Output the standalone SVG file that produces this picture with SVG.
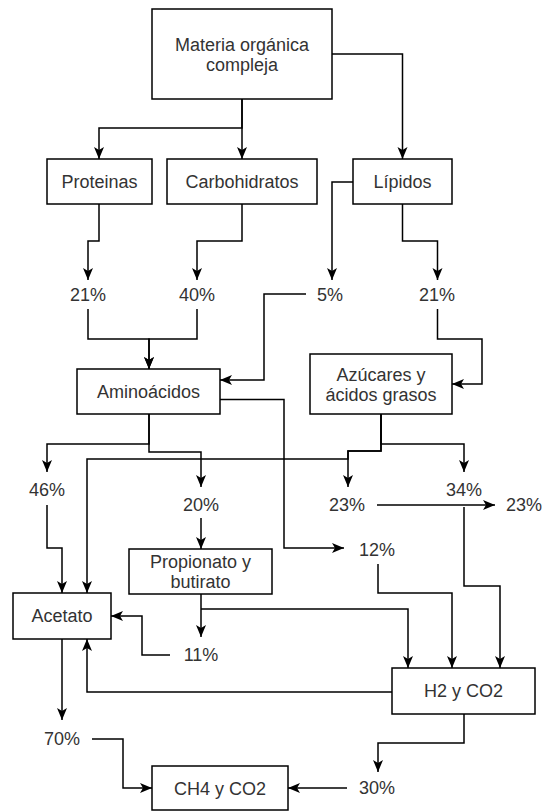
<svg xmlns="http://www.w3.org/2000/svg" width="545" height="811" viewBox="0 0 545 811">
<defs>
<style>
.box{fill:#fff;stroke:#000;stroke-width:1.5}
.t{font-family:"Liberation Sans",Arial,Helvetica,sans-serif;font-size:18px;fill:#333;text-anchor:middle}
.c{fill:none;stroke:#000;stroke-width:1.5;marker-end:url(#ah)}
</style>
<marker id="ah" markerUnits="userSpaceOnUse" markerWidth="13" markerHeight="11" refX="12" refY="5" orient="auto" viewBox="0 0 13 11" overflow="visible">
<path d="M0,0 L12,5 L0,10 L3,5 Z" fill="#000"/>
</marker>
</defs>
<rect width="545" height="811" fill="#fff"/>
<g id="connectors">
<path class="c" d="M242,99 V128 H99 V159"/>
<path class="c" d="M242,99 V159"/>
<path class="c" d="M332,54 H402.5 V159"/>
<path class="c" d="M99,204 V241 H88 V280"/>
<path class="c" d="M242,204 V241 H197 V280"/>
<path class="c" d="M353,182 H332 V280"/>
<path class="c" d="M402.5,204 V241 H437.5 V280"/>
<path class="c" d="M88,309 V339 H149 V369"/>
<path class="c" d="M197,309 V339 H149 V369"/>
<path class="c" d="M306,294 H264 V380 H220"/>
<path class="c" d="M437.5,309 V339 H482 V384 H452"/>
<path class="c" d="M220,399.5 H284 V548 H344"/>
<path class="c" d="M149,414 V444 H47 V472"/>
<path class="c" d="M149,414 V452 H201 V487"/>
<path class="c" d="M381,414 V444 H464 V472"/>
<path class="c" d="M381,414 V451 H348 V487"/>
<path class="c" d="M381,414 V451 H348 V459 H87 V593"/>
<path class="c" d="M47,505 V548 H62 V593"/>
<path class="c" d="M201,518 V549"/>
<path class="c" d="M377,505 H495"/>
<path class="c" d="M464,507 V586 H500 V668"/>
<path class="c" d="M378,564 V593 H452 V668"/>
<path class="c" d="M201,594 V637"/>
<path class="c" d="M201,609 H408 V668"/>
<path class="c" d="M170,655 H142 V616 H111"/>
<path class="c" d="M392,692 H87 V639"/>
<path class="c" d="M62,639 V720"/>
<path class="c" d="M92,739 H123 V788 H152"/>
<path class="c" d="M464,714 V743 H378 V772"/>
<path class="c" d="M347,788 H288"/>
</g>
<g id="materia"><rect class="box" x="152" y="9" width="180" height="90"/><text class="t" x="242" y="51">Materia orgánica</text><text class="t" x="242" y="71">compleja</text></g>
<g id="proteinas"><rect class="box" x="47" y="159" width="105" height="45"/><text class="t" x="99.5" y="188">Proteinas</text></g>
<g id="carbohidratos"><rect class="box" x="167" y="159" width="150" height="45"/><text class="t" x="242" y="188">Carbohidratos</text></g>
<g id="lipidos"><rect class="box" x="353" y="159" width="99" height="45"/><text class="t" x="402.5" y="188">Lípidos</text></g>
<g id="aminoacidos"><rect class="box" x="77" y="369" width="143" height="45"/><text class="t" x="148.5" y="398">Aminoácidos</text></g>
<g id="azucares"><rect class="box" x="310" y="354" width="142" height="60"/><text class="t" x="381" y="381">Azúcares y</text><text class="t" x="381" y="401">ácidos grasos</text></g>
<g id="acetato"><rect class="box" x="13" y="593" width="98" height="46"/><text class="t" x="62" y="622">Acetato</text></g>
<g id="propionato"><rect class="box" x="129" y="549" width="143" height="45"/><text class="t" x="200.5" y="567.5">Propionato y</text><text class="t" x="200.5" y="588">butirato</text></g>
<g id="h2co2"><rect class="box" x="392" y="668" width="143" height="46"/><text class="t" x="463.5" y="697">H2 y CO2</text></g>
<g id="ch4co2"><rect class="box" x="152" y="766" width="136" height="44"/><text class="t" x="220" y="794.5">CH4 y CO2</text></g>
<g id="p21a"><text class="t" x="88" y="301">21%</text></g>
<g id="p40"><text class="t" x="197" y="301">40%</text></g>
<g id="p5"><text class="t" x="330" y="301">5%</text></g>
<g id="p21b"><text class="t" x="437" y="301">21%</text></g>
<g id="p46"><text class="t" x="47" y="496">46%</text></g>
<g id="p20"><text class="t" x="201" y="511">20%</text></g>
<g id="p23a"><text class="t" x="347" y="511">23%</text></g>
<g id="p34"><text class="t" x="464" y="496">34%</text></g>
<g id="p23b"><text class="t" x="524" y="511">23%</text></g>
<g id="p12"><text class="t" x="377" y="556">12%</text></g>
<g id="p11"><text class="t" x="201" y="661">11%</text></g>
<g id="p70"><text class="t" x="62" y="745">70%</text></g>
<g id="p30"><text class="t" x="377" y="794">30%</text></g>
</svg>
